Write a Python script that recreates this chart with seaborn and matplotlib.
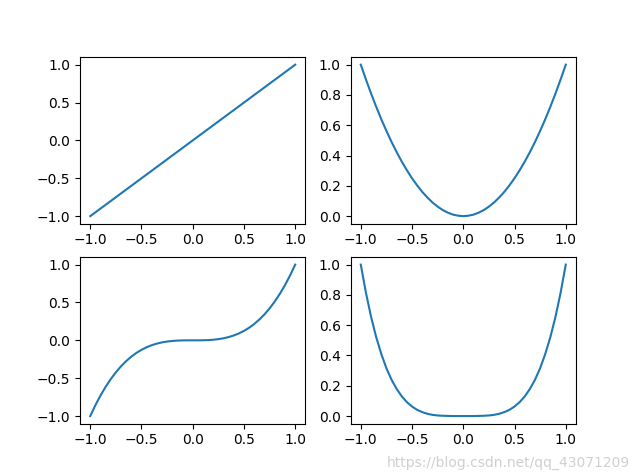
import matplotlib
matplotlib.use('Agg')
import matplotlib.pyplot as plt
import seaborn as sns

# x 값 (-1 ~ 1)
x = [-1.00, -0.95, -0.90, -0.85, -0.80, -0.75, -0.70, -0.65, -0.60, -0.55,
     -0.50, -0.45, -0.40, -0.35, -0.30, -0.25, -0.20, -0.15, -0.10, -0.05,
     0.00, 0.05, 0.10, 0.15, 0.20, 0.25, 0.30, 0.35, 0.40, 0.45,
     0.50, 0.55, 0.60, 0.65, 0.70, 0.75, 0.80, 0.85, 0.90, 0.95, 1.00]

# 각 그래프의 y 값
y1 = x[:]
y2 = [1.000, 0.903, 0.810, 0.723, 0.640, 0.563, 0.490, 0.423, 0.360, 0.303,
      0.250, 0.203, 0.160, 0.123, 0.090, 0.063, 0.040, 0.023, 0.010, 0.003,
      0.000, 0.003, 0.010, 0.023, 0.040, 0.063, 0.090, 0.123, 0.160, 0.203,
      0.250, 0.303, 0.360, 0.423, 0.490, 0.563, 0.640, 0.723, 0.810, 0.903, 1.000]
y3 = [-1.000, -0.857, -0.729, -0.614, -0.512, -0.422, -0.343, -0.275, -0.216, -0.166,
      -0.125, -0.091, -0.064, -0.043, -0.027, -0.016, -0.008, -0.003, -0.001, 0.000,
      0.000, 0.000, 0.001, 0.003, 0.008, 0.016, 0.027, 0.043, 0.064, 0.091,
      0.125, 0.166, 0.216, 0.275, 0.343, 0.422, 0.512, 0.614, 0.729, 0.857, 1.000]
y4 = [1.000, 0.815, 0.656, 0.522, 0.410, 0.316, 0.240, 0.179, 0.130, 0.092,
      0.063, 0.041, 0.026, 0.015, 0.008, 0.004, 0.002, 0.001, 0.000, 0.000,
      0.000, 0.000, 0.000, 0.001, 0.002, 0.004, 0.008, 0.015, 0.026, 0.041,
      0.063, 0.092, 0.130, 0.179, 0.240, 0.316, 0.410, 0.522, 0.656, 0.815, 1.000]

fig, axes = plt.subplots(2, 2, figsize=(6.4, 4.76), dpi=100)

for ax, y in zip(axes.flat, [y1, y2, y3, y4]):
    sns.lineplot(x=x, y=y, ax=ax, color='#1f77b4')

axes[0, 0].set_yticks([-1.0, -0.5, 0.0, 0.5, 1.0])
axes[1, 0].set_yticks([-1.0, -0.5, 0.0, 0.5, 1.0])
axes[0, 1].set_yticks([0.0, 0.2, 0.4, 0.6, 0.8, 1.0])
axes[1, 1].set_yticks([0.0, 0.2, 0.4, 0.6, 0.8, 1.0])

# 워터마크
fig.text(0.985, 0.012, 'https://blog.csdn.net/qq_43071209', ha='right', va='bottom',
         color='#d0d0d0', fontsize=10)

plt.savefig('out.png')
